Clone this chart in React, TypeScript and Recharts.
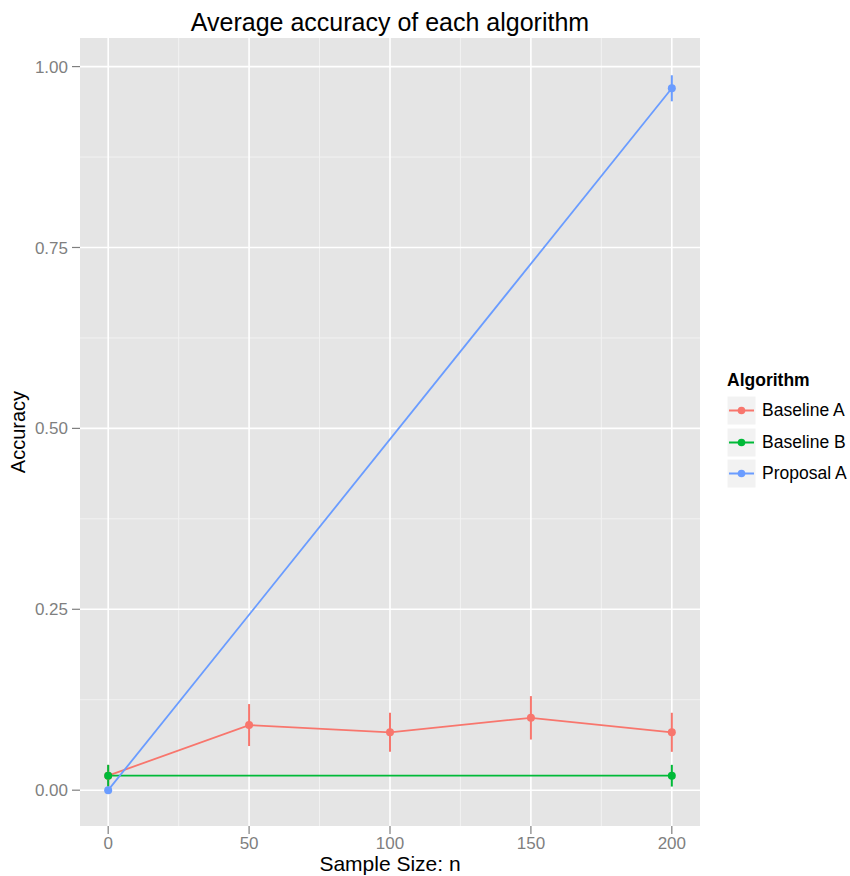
import React from "react";
import {
  LineChart,
  Line,
  XAxis,
  YAxis,
  CartesianGrid,
  ErrorBar,
  Legend,
  Label,
} from "recharts";

const FONT = '"Liberation Sans", Arial, Helvetica, sans-serif';

// Baseline A
const sizesA = [0, 50, 100, 150, 200];
const accA = [0.02, 0.09, 0.08, 0.1, 0.08];
const errA = [0.015, 0.029, 0.027, 0.03, 0.027];

// Baseline B
const sizesB = [0, 200];
const accB = [0.02, 0.02];
const errB = [0.015, 0.015];

// Proposal A
const sizesP = [0, 200];
const accP = [0, 0.97];
const errP = [0, 0.018];

const xTicks = [0, 50, 100, 150, 200];
const xMinor = [25, 75, 125, 175];
const yTicks = [0, 0.25, 0.5, 0.75, 1];
const yMinor = [0.125, 0.375, 0.625, 0.875];

const seriesNames = ["Baseline A", "Baseline B", "Proposal A"];
const seriesColors = ["#F8766D", "#00BA38", "#6A9CFF"];

function toRows(sizes: number[], acc: number[], err: number[]) {
  return sizes.map((n, i) => ({ n, acc: acc[i], err: err[i] }));
}

const series = [
  toRows(sizesA, accA, errA),
  toRows(sizesB, accB, errB),
  toRows(sizesP, accP, errP),
];

function LegendBox() {
  return (
    <div style={{ fontFamily: FONT, color: "#000" }}>
      <div style={{ fontWeight: "bold", fontSize: 17.5, marginBottom: 4 }}>Algorithm</div>
      {seriesNames.map((name, i) => (
        <div key={name} style={{ display: "flex", alignItems: "center", height: 31.5 }}>
          <svg width={29} height={29} style={{ marginRight: 6 }}>
            <rect x={0} y={0} width={29} height={29} fill="#F2F2F2" stroke="#FFFFFF" strokeWidth={1} />
            <line x1={2} y1={14.5} x2={27} y2={14.5} stroke={seriesColors[i]} strokeWidth={2} />
            <circle cx={14.5} cy={14.5} r={3.8} fill={seriesColors[i]} />
          </svg>
          <span style={{ fontSize: 17.5 }}>{name}</span>
        </div>
      ))}
    </div>
  );
}

export default function App() {
  return (
    <div style={{ position: "absolute", left: 0, top: 0, width: 850, height: 876, background: "#fff" }}>
      <div
        style={{
          position: "absolute",
          left: 80,
          width: 620,
          top: 7,
          textAlign: "center",
          fontFamily: FONT,
          fontSize: 25,
          color: "#000",
          lineHeight: "30px",
        }}
      >
        Average accuracy of each algorithm
      </div>
      <LineChart
        width={850}
        height={876}
        margin={{ top: 38, right: 150, bottom: 0, left: 0 }}
        style={{ fontFamily: FONT }}
      >
        <CartesianGrid
          fill="#E5E5E5"
          fillOpacity={1}
          stroke="#F2F2F2"
          strokeWidth={1}
          horizontalValues={yMinor}
          verticalValues={xMinor}
        />
        <CartesianGrid
          stroke="#FFFFFF"
          strokeWidth={1.6}
          horizontalValues={yTicks}
          verticalValues={xTicks}
        />
        <XAxis
          type="number"
          dataKey="n"
          domain={[-10, 210]}
          allowDataOverflow
          ticks={xTicks}
          height={50}
          tickSize={8}
          tickMargin={3}
          axisLine={false}
          tickLine={{ stroke: "#7F7F7F", strokeWidth: 1.2 }}
          tick={{ fill: "#7F7F7F", fontSize: 17 }}
        >
          <Label
            value="Sample Size: n"
            position="insideBottom"
            offset={5}
            style={{ fill: "#000", fontSize: 21 }}
          />
        </XAxis>
        <YAxis
          type="number"
          domain={[-0.0495, 1.0395]}
          allowDataOverflow
          ticks={yTicks}
          width={80}
          tickSize={8}
          tickMargin={4}
          axisLine={false}
          tickLine={{ stroke: "#7F7F7F", strokeWidth: 1.2 }}
          tick={{ fill: "#7F7F7F", fontSize: 17 }}
          tickFormatter={(v: number) => v.toFixed(2)}
        >
          <Label
            value="Accuracy"
            angle={-90}
            position="insideLeft"
            offset={18}
            style={{ fill: "#000", fontSize: 20, textAnchor: "middle" }}
          />
        </YAxis>
        {series.map((rows, i) => (
          <Line
            key={seriesNames[i]}
            data={rows}
            dataKey="acc"
            name={seriesNames[i]}
            type="linear"
            stroke={seriesColors[i]}
            strokeWidth={1.8}
            dot={{ r: 4, fill: seriesColors[i], stroke: seriesColors[i], strokeWidth: 0 }}
            activeDot={false}
            isAnimationActive={false}
          >
            <ErrorBar
              dataKey="err"
              direction="y"
              width={0}
              stroke={seriesColors[i]}
              strokeWidth={2}
              isAnimationActive={false}
            />
          </Line>
        ))}
        <Legend
          layout="horizontal"
          align="center"
          verticalAlign="middle"
          content={() => <LegendBox />}
          wrapperStyle={{ left: 727, top: 370, width: 123 }}
        />
      </LineChart>
    </div>
  );
}
